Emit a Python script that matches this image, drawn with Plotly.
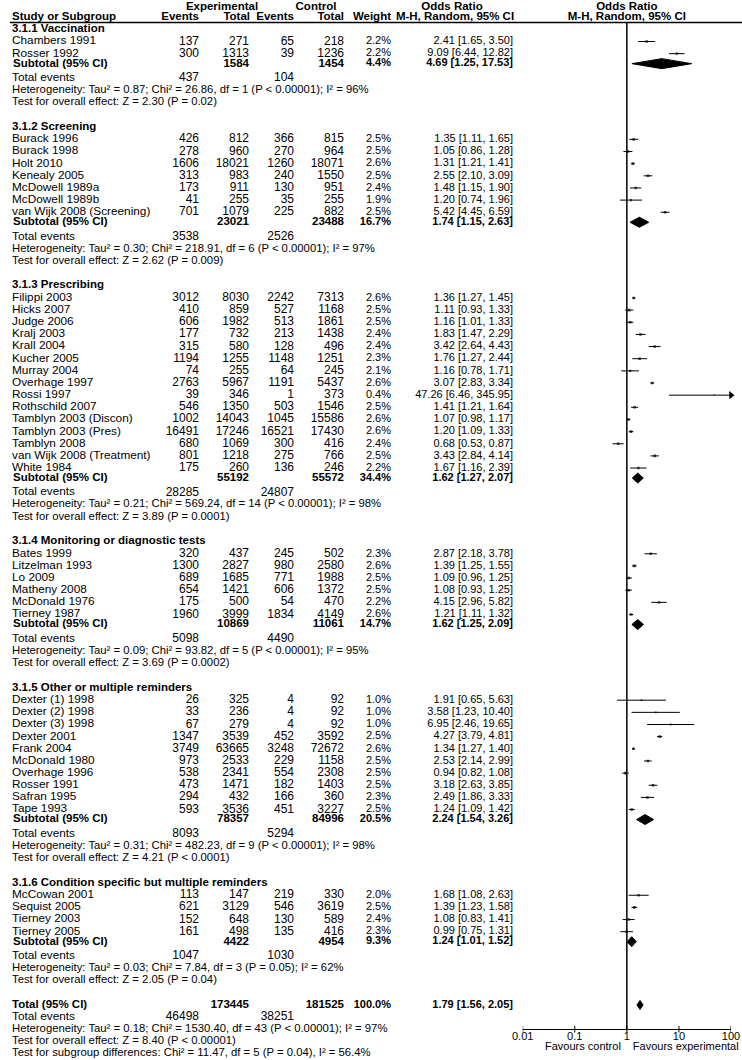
import plotly.graph_objects as go

W, H = 742, 1060
FONT = "Liberation Sans, Arial, sans-serif"

# ---------------- data ----------------
group_names = [
    "3.1.1 Vaccination",
    "3.1.2 Screening",
    "3.1.3 Prescribing",
    "3.1.4 Monitoring or diagnostic tests",
    "3.1.5 Other or multiple reminders",
    "3.1.6 Condition specific but multiple reminders",
]
group_sizes = [2, 7, 15, 6, 10, 4]

study_names = [
    "Chambers 1991", "Rosser 1992",
    "Burack 1996", "Burack 1998", "Holt 2010", "Kenealy 2005", "McDowell 1989a",
    "McDowell 1989b", "van Wijk 2008 (Screening)",
    "Filippi 2003", "Hicks 2007", "Judge 2006", "Kralj 2003", "Krall 2004", "Kucher 2005",
    "Murray 2004", "Overhage 1997", "Rossi 1997", "Rothschild 2007", "Tamblyn 2003 (Discon)",
    "Tamblyn 2003 (Pres)", "Tamblyn 2008", "van Wijk 2008 (Treatment)", "White 1984",
    "Bates 1999", "Litzelman 1993", "Lo 2009", "Matheny 2008", "McDonald 1976", "Tierney 1987",
    "Dexter (1) 1998", "Dexter (2) 1998", "Dexter (3) 1998", "Dexter 2001", "Frank 2004",
    "McDonald 1980", "Overhage 1996", "Rosser 1991", "Safran 1995", "Tape 1993",
    "McCowan 2001", "Sequist 2005", "Tierney 2003", "Tierney 2005",
]
exp_events = [137, 300,
              426, 278, 1606, 313, 173, 41, 701,
              3012, 410, 606, 177, 315, 1194, 74, 2763, 39, 546, 1002, 16491, 680, 801, 175,
              320, 1300, 689, 654, 175, 1960,
              26, 33, 67, 1347, 3749, 973, 538, 473, 294, 593,
              113, 621, 152, 161]
exp_total = [271, 1313,
             812, 960, 18021, 983, 911, 255, 1079,
             8030, 859, 1982, 732, 580, 1255, 255, 5967, 346, 1350, 14043, 17246, 1069, 1218, 260,
             437, 2827, 1685, 1421, 500, 3999,
             325, 236, 279, 3539, 63665, 2533, 2341, 1471, 432, 3536,
             147, 3129, 648, 498]
ctl_events = [65, 39,
              366, 270, 1260, 240, 130, 35, 225,
              2242, 527, 513, 213, 128, 1148, 64, 1191, 1, 503, 1045, 16521, 300, 275, 136,
              245, 980, 771, 606, 54, 1834,
              4, 4, 4, 452, 3248, 229, 554, 182, 166, 451,
              219, 546, 130, 135]
ctl_total = [218, 1236,
             815, 964, 18071, 1550, 951, 255, 882,
             7313, 1168, 1861, 1438, 496, 1251, 245, 5437, 373, 1546, 15586, 17430, 416, 766, 246,
             502, 2580, 1988, 1372, 470, 4149,
             92, 92, 92, 3592, 72672, 1158, 2308, 1403, 360, 3227,
             330, 3619, 589, 416]
weights = [2.2, 2.2,
           2.5, 2.5, 2.6, 2.5, 2.4, 1.9, 2.5,
           2.6, 2.5, 2.5, 2.4, 2.4, 2.3, 2.1, 2.6, 0.4, 2.5, 2.6, 2.6, 2.4, 2.5, 2.2,
           2.3, 2.6, 2.5, 2.5, 2.2, 2.6,
           1.0, 1.0, 1.0, 2.5, 2.6, 2.5, 2.5, 2.5, 2.3, 2.5,
           2.0, 2.5, 2.4, 2.3]
or_est = [2.41, 9.09,
          1.35, 1.05, 1.31, 2.55, 1.48, 1.20, 5.42,
          1.36, 1.11, 1.16, 1.83, 3.42, 1.76, 1.16, 3.07, 47.26, 1.41, 1.07, 1.20, 0.68, 3.43, 1.67,
          2.87, 1.39, 1.09, 1.08, 4.15, 1.21,
          1.91, 3.58, 6.95, 4.27, 1.34, 2.53, 0.94, 3.18, 2.49, 1.24,
          1.68, 1.39, 1.08, 0.99]
or_lo = [1.65, 6.44,
         1.11, 0.86, 1.21, 2.10, 1.15, 0.74, 4.45,
         1.27, 0.93, 1.01, 1.47, 2.64, 1.27, 0.78, 2.83, 6.46, 1.21, 0.98, 1.09, 0.53, 2.84, 1.16,
         2.18, 1.25, 0.96, 0.93, 2.96, 1.11,
         0.65, 1.23, 2.46, 3.79, 1.27, 2.14, 0.82, 2.63, 1.86, 1.09,
         1.08, 1.23, 0.83, 0.75]
or_hi = [3.50, 12.82,
         1.65, 1.28, 1.41, 3.09, 1.90, 1.96, 6.59,
         1.45, 1.33, 1.33, 2.29, 4.43, 2.44, 1.71, 3.34, 345.95, 1.64, 1.17, 1.33, 0.87, 4.14, 2.39,
         3.78, 1.55, 1.25, 1.25, 5.82, 1.32,
         5.63, 10.40, 19.65, 4.81, 1.40, 2.99, 1.08, 3.85, 3.33, 1.42,
         2.63, 1.58, 1.41, 1.31]

sub_exp_total = [1584, 23021, 55192, 10869, 78357, 4422]
sub_ctl_total = [1454, 23488, 55572, 11061, 84996, 4954]
sub_weight = [4.4, 16.7, 34.4, 14.7, 20.5, 9.3]
sub_or = [4.69, 1.74, 1.62, 1.62, 2.24, 1.24]
sub_lo = [1.25, 1.15, 1.27, 1.25, 1.54, 1.01]
sub_hi = [17.53, 2.63, 2.07, 2.09, 3.26, 1.52]
sub_exp_events = [437, 3538, 28285, 5098, 8093, 1047]
sub_ctl_events = [104, 2526, 24807, 4490, 5294, 1030]
het_tau2 = [0.87, 0.30, 0.21, 0.09, 0.31, 0.03]
het_chi2 = [26.86, 218.91, 569.24, 93.82, 482.23, 7.84]
het_df = [1, 6, 14, 5, 9, 3]
het_p = ["< 0.00001", "< 0.00001", "< 0.00001", "< 0.00001", "< 0.00001", "= 0.05"]
het_i2 = [96, 97, 98, 95, 98, 62]
z_vals = [2.30, 2.62, 3.89, 3.69, 4.21, 2.05]
z_p = ["= 0.02", "= 0.009", "= 0.0001", "= 0.0002", "< 0.0001", "= 0.04"]

total_exp_total, total_ctl_total, total_weight = 173445, 181525, 100.0
total_or, total_lo, total_hi = 1.79, 1.56, 2.05
total_exp_events, total_ctl_events = 46498, 38251
total_tau2, total_chi2, total_df, total_het_p, total_i2 = 0.18, 1530.40, 43, "< 0.00001", 97
total_z, total_z_p = 8.40, "< 0.00001"
subgrp_chi2, subgrp_df, subgrp_p, subgrp_i2 = 11.47, 5, "= 0.04", 56.4

axis_ticks = [0.01, 0.1, 1, 10, 100]
axis_labels = ["0.01", "0.1", "1", "10", "100"]

# ---------------- layout constants (px) ----------------
X_NAME, X_SUB = 12, 13
X_EXP_EV, X_EXP_TOT, X_CTL_EV, X_CTL_TOT, X_WEIGHT, X_OR = 199, 249, 294, 344, 391, 513
X_OR_HDR = 455
X_PLOT_L, X_PLOT_R = 522.7, 731.0
Y_HDR1, Y_HDR2, Y_RULE = 7, 17, 22.5
Y_FIRST = 29
HDR_GAP, PITCH, SUB_GAP, TE_GAP, LINE_GAP, GROUP_GAP = 12.5, 12.15, 10, 14.5, 12.1, 24.5
Y_AXIS = 1029.5
DIAMOND_H = 10
FS_HDR, FS_ROW, FS_NUM, FS_OR, FS_NOTE = 11.5, 11.8, 12, 11, 11.3

texts = {False: dict(x=[], y=[], text=[], pos=[], size=[]),
         True: dict(x=[], y=[], text=[], pos=[], size=[])}
POS = {"left": "middle right", "right": "middle left", "center": "middle center"}


def add(x, y, s, align="left", bold=False, size=FS_ROW):
    t = texts[bold]
    t["x"].append(x)
    t["y"].append(y)
    t["text"].append(s)
    t["pos"].append(POS[align])
    t["size"].append(size)


def or_text(e, l, h):
    return f"{e:.2f} [{l:.2f}, {h:.2f}]"


ci_x, ci_y = [], []
sq_x, sq_y, sq_s = [], [], []
dm_x, dm_y = [], []
arrow_y = []
AX_MIN, AX_MAX = axis_ticks[0], axis_ticks[-1]


def diamond(e, l, h, y, hh):
    dm_x.extend([l, e, h, e, l, None])
    dm_y.extend([y, y - hh / 2, y, y + hh / 2, y, None])


# header
add((X_EXP_EV + X_EXP_TOT) / 2 - 2, Y_HDR1, "Experimental", "center", True, FS_HDR)
add((X_CTL_EV + X_CTL_TOT) / 2 - 3, Y_HDR1, "Control", "center", True, FS_HDR)
add(X_OR_HDR - 3, Y_HDR1, "Odds Ratio", "center", True, FS_HDR)
add(X_NAME, Y_HDR2, "Study or Subgroup", "left", True, FS_HDR)
add(X_EXP_EV, Y_HDR2, "Events", "right", True, FS_HDR)
add(X_EXP_TOT + 1, Y_HDR2, "Total", "right", True, FS_HDR)
add(X_CTL_EV, Y_HDR2, "Events", "right", True, FS_HDR)
add(X_CTL_TOT, Y_HDR2, "Total", "right", True, FS_HDR)
add(X_WEIGHT, Y_HDR2, "Weight", "right", True, FS_HDR)
add(X_OR_HDR, Y_HDR2, "M-H, Random, 95% CI", "center", True, FS_HDR)

y = Y_FIRST
idx = 0
for g, n in enumerate(group_sizes):
    add(X_NAME, y, group_names[g], "left", True, FS_HDR)
    y += HDR_GAP
    for k in range(n):
        i = idx + k
        add(X_NAME, y, study_names[i])
        add(X_EXP_EV, y, str(exp_events[i]), "right", size=FS_NUM)
        add(X_EXP_TOT, y, str(exp_total[i]), "right", size=FS_NUM)
        add(X_CTL_EV, y, str(ctl_events[i]), "right", size=FS_NUM)
        add(X_CTL_TOT, y, str(ctl_total[i]), "right", size=FS_NUM)
        add(X_WEIGHT, y, f"{weights[i]:.1f}%", "right", size=FS_OR)
        add(X_OR, y, or_text(or_est[i], or_lo[i], or_hi[i]), "right", size=FS_OR)
        ci_x.extend([or_lo[i], min(or_hi[i], AX_MAX), None])
        ci_y.extend([y, y, None])
        if or_hi[i] > AX_MAX:
            arrow_y.append(y)
        sq_x.append(or_est[i])
        sq_y.append(y)
        sq_s.append(1.2 + 0.55 * weights[i])
        y += PITCH
    idx += n
    y = y - PITCH + SUB_GAP
    add(X_SUB, y, "Subtotal (95% CI)", "left", True, FS_HDR)
    add(X_EXP_TOT, y, str(sub_exp_total[g]), "right", True, FS_HDR)
    add(X_CTL_TOT, y, str(sub_ctl_total[g]), "right", True, FS_HDR)
    add(X_WEIGHT, y, f"{sub_weight[g]:.1f}%", "right", True, FS_OR)
    add(X_OR, y, or_text(sub_or[g], sub_lo[g], sub_hi[g]), "right", True, FS_OR)
    diamond(sub_or[g], sub_lo[g], sub_hi[g], y, DIAMOND_H)
    y += TE_GAP
    add(X_NAME, y, "Total events")
    add(X_EXP_EV, y, str(sub_exp_events[g]), "right", size=FS_NUM)
    add(X_CTL_EV, y, str(sub_ctl_events[g]), "right", size=FS_NUM)
    y += LINE_GAP
    add(X_NAME, y, f"Heterogeneity: Tau² = {het_tau2[g]:.2f}; Chi² = {het_chi2[g]:.2f}, "
                   f"df = {het_df[g]} (P {het_p[g]}); I² = {het_i2[g]}%", size=FS_NOTE)
    y += LINE_GAP
    add(X_NAME, y, f"Test for overall effect: Z = {z_vals[g]:.2f} (P {z_p[g]})", size=FS_NOTE)
    y += GROUP_GAP

# overall total
add(X_NAME, y, "Total (95% CI)", "left", True, FS_HDR)
add(X_EXP_TOT, y, str(total_exp_total), "right", True, FS_HDR)
add(X_CTL_TOT, y, str(total_ctl_total), "right", True, FS_HDR)
add(X_WEIGHT, y, f"{total_weight:.1f}%", "right", True, FS_OR)
add(X_OR, y, or_text(total_or, total_lo, total_hi), "right", True, FS_OR)
diamond(total_or, total_lo, total_hi, y, DIAMOND_H - 1)
y += LINE_GAP
add(X_NAME, y, "Total events")
add(X_EXP_EV, y, str(total_exp_events), "right", size=FS_NUM)
add(X_CTL_EV, y, str(total_ctl_events), "right", size=FS_NUM)
y += LINE_GAP
add(X_NAME, y, f"Heterogeneity: Tau² = {total_tau2:.2f}; Chi² = {total_chi2:.2f}, "
               f"df = {total_df} (P {total_het_p}); I² = {total_i2}%", size=FS_NOTE)
y += LINE_GAP
add(X_NAME, y, f"Test for overall effect: Z = {total_z:.2f} (P {total_z_p})", size=FS_NOTE)
y += LINE_GAP
add(X_NAME, y, f"Test for subgroup differences: Chi² = {subgrp_chi2:.2f}, df = {subgrp_df} "
               f"(P {subgrp_p}), I² = {subgrp_i2:.1f}%", size=FS_NOTE)

# favours labels under the axis and right-hand header
X_NULL_PX = X_PLOT_L + (X_PLOT_R - X_PLOT_L) / 2
add(X_NULL_PX - 6, Y_AXIS + 17.5, "Favours control", "right", size=FS_OR)
add(X_NULL_PX + 6, Y_AXIS + 17.5, "Favours experimental", "left", size=FS_OR)
add(X_NULL_PX, Y_HDR1, "Odds Ratio", "center", True, FS_HDR)
add(X_NULL_PX, Y_HDR2, "M-H, Random, 95% CI", "center", True, FS_HDR)

# manual axis (line, crossing ticks) drawn on the log scale
ax_x = [AX_MIN, AX_MAX, None]
ax_y = [Y_AXIS, Y_AXIS, None]
for t in axis_ticks:
    ax_x.extend([t, t, None])
    ax_y.extend([Y_AXIS - 3.5, Y_AXIS + 3, None])

fig = go.Figure()
common = dict(xaxis="x", yaxis="y", hoverinfo="skip", showlegend=False)
fig.add_trace(go.Scatter(x=ci_x, y=ci_y, mode="lines", line=dict(color="black", width=1), **common))
fig.add_trace(go.Scatter(x=sq_x, y=sq_y, mode="markers",
                         marker=dict(symbol="square", size=sq_s, color="black", line=dict(width=0)),
                         **common))
fig.add_trace(go.Scatter(x=dm_x, y=dm_y, mode="lines", fill="toself", fillcolor="black",
                         line=dict(color="black", width=1), **common))
fig.add_trace(go.Scatter(x=[1, 1], y=[Y_RULE, Y_AXIS], mode="lines",
                         line=dict(color="black", width=1.5), **common))
fig.add_trace(go.Scatter(x=ax_x, y=ax_y, mode="lines", cliponaxis=False,
                         line=dict(color="black", width=1), **common))
fig.add_trace(go.Scatter(x=axis_ticks, y=[Y_AXIS + 8] * len(axis_ticks), text=axis_labels,
                         mode="text", textposition="middle center", cliponaxis=False,
                         textfont=dict(family=FONT, size=FS_OR, color="black"), **common))
fig.add_trace(go.Scatter(x=[AX_MAX] * len(arrow_y), y=arrow_y, mode="markers", cliponaxis=False,
                         marker=dict(symbol="triangle-right", size=7, color="black"), **common))

for bold in (False, True):
    t = texts[bold]
    fig.add_trace(go.Scatter(
        x=t["x"], y=t["y"], text=t["text"], mode="text", textposition=t["pos"],
        textfont=dict(family=FONT, size=t["size"], color="black",
                      weight="bold" if bold else "normal"),
        xaxis="x2", yaxis="y", hoverinfo="skip", showlegend=False))

fig.update_layout(
    width=W, height=H, margin=dict(l=0, r=0, t=0, b=0, pad=0),
    paper_bgcolor="white", plot_bgcolor="rgba(0,0,0,0)", showlegend=False,
    xaxis=dict(type="log", range=[-2, 2], domain=[X_PLOT_L / W, X_PLOT_R / W],
               anchor="y", visible=False, fixedrange=True),
    xaxis2=dict(range=[0, W], domain=[0, 1], anchor="y", visible=False, fixedrange=True),
    yaxis=dict(range=[H, 0], domain=[0, 1], anchor="x2", visible=False, fixedrange=True),
    shapes=[dict(type="line", xref="paper", yref="y", x0=10 / W, x1=1, y0=Y_RULE, y1=Y_RULE,
                 line=dict(color="black", width=1.5))],
)

fig.write_html("out.html", config={"displayModeBar": False},
               post_script="document.body.style.margin='0px';")
